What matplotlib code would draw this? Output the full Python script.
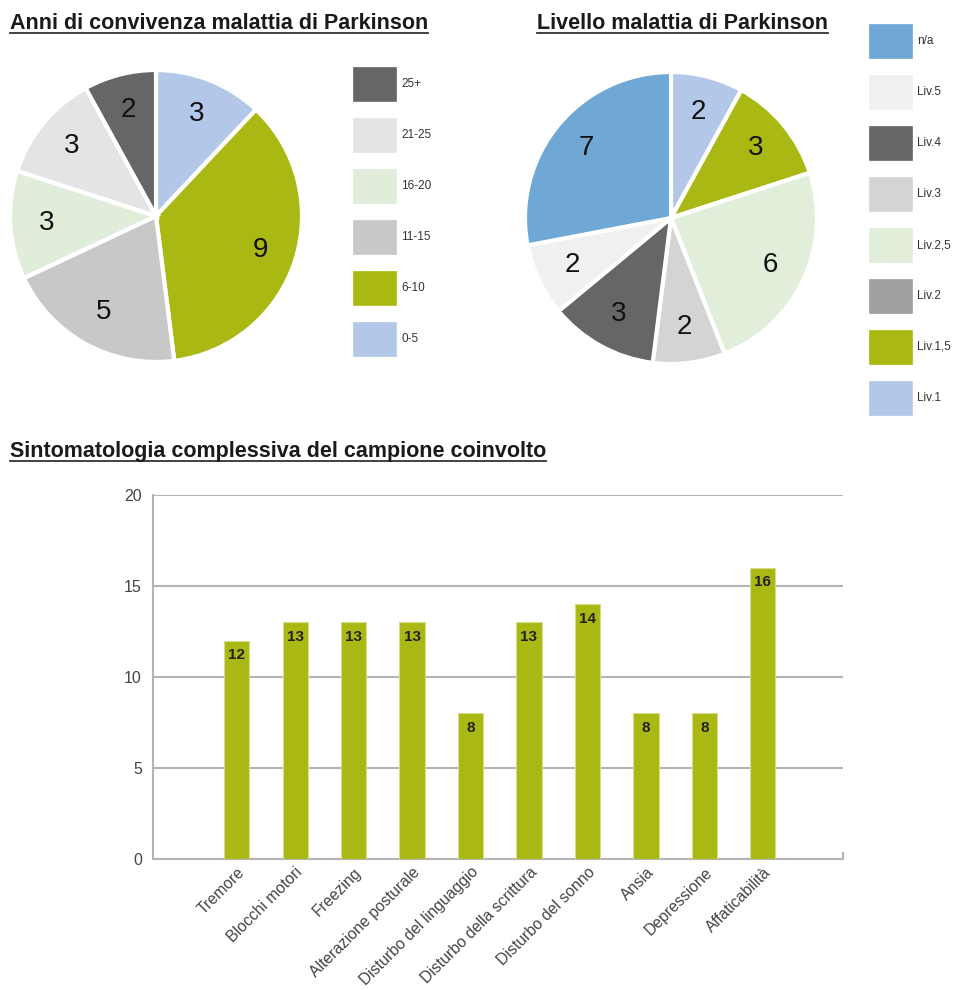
import matplotlib
matplotlib.use('Agg')
import matplotlib.pyplot as plt
from matplotlib.patches import Rectangle
from matplotlib.lines import Line2D
import numpy as np

plt.rcParams['font.family'] = ['Liberation Sans', 'DejaVu Sans']

# years living with the disease
anni_labels = ['0-5', '6-10', '11-15', '16-20', '21-25', '25+']
anni_values = [3, 9, 5, 3, 3, 2]
anni_colors = ['#b3c8e8', '#aab814', '#c8c8c8', '#e1eddb', '#e4e4e4', '#666666']

# disease level
livello_labels = ['Liv.1', 'Liv.1,5', 'Liv.2', 'Liv.2,5', 'Liv.3', 'Liv.4', 'Liv.5', 'n/a']
livello_values = [2, 3, 0, 6, 2, 3, 2, 7]
livello_colors = ['#b3c8e8', '#aab814', '#a0a0a0', '#e1eeda', '#d4d4d4', '#666666', '#f0f0f0', '#6fa7d5']

# symptoms
sintomi = ['Tremore', 'Blocchi motori', 'Freezing', 'Alterazione posturale',
           'Disturbo del linguaggio', 'Disturbo della scrittura', 'Disturbo del sonno',
           'Ansia', 'Depressione', 'Affaticabilità']
sintomi_values = [12, 13, 13, 13, 8, 13, 14, 8, 8, 16]

W, H = 957, 990
fig = plt.figure(figsize=(W / 100, H / 100), dpi=100)
fig.patch.set_facecolor('white')


def px_axes(cx, cy, w, h):
    # axes placed from pixel centre and size
    return fig.add_axes([(cx - w / 2) / W, 1 - (cy + h / 2) / H, w / W, h / H])


def title(x, y, s):
    t = fig.text(x / W, 1 - y / H, s, fontsize=15.5, fontweight='bold', ha='left',
                 va='baseline', color='#1a1a1a')
    bb = t.get_window_extent(fig.canvas.get_renderer())
    yl = 1 - (y + 4) / H
    fig.add_artist(Line2D([bb.x0 / W, bb.x1 / W], [yl, yl], transform=fig.transFigure,
                          color='#333333', lw=1.3))


def pie(ax, values, colors):
    wedges, _ = ax.pie(values, colors=colors, startangle=90, counterclock=False,
                       wedgeprops=dict(edgecolor='white', linewidth=3))
    for w, v in zip(wedges, values):
        if v == 0:
            continue
        a = np.deg2rad((w.theta1 + w.theta2) / 2)
        ax.text(0.75 * np.cos(a), 0.75 * np.sin(a), str(v), ha='center', va='center',
                fontsize=20, color='#111111')
    ax.set_xlim(-1, 1)
    ax.set_ylim(-1, 1)
    ax.set_aspect('equal')
    ax.axis('off')


def legend(x, y0, labels, colors):
    # boxes listed top to bottom in reverse data order
    for i, (lab, col) in enumerate(zip(labels[::-1], colors[::-1])):
        top = y0 + i * 51
        fig.add_artist(Rectangle((x / W, 1 - (top + 34) / H), 43 / W, 34 / H,
                                 transform=fig.transFigure, facecolor=col,
                                 edgecolor=col, lw=0.5))
        fig.text((x + 48) / W, 1 - (top + 17) / H, lab, fontsize=8.5, ha='left', va='center',
                 color='#333333')


# pies
ax1 = px_axes(156, 216, 292, 292)
pie(ax1, anni_values, anni_colors)
legend(353, 67, anni_labels, anni_colors)

ax2 = px_axes(671, 218, 292, 292)
pie(ax2, livello_values, livello_colors)
legend(869, 24, livello_labels, livello_colors)

title(10, 29, 'Anni di convivenza malattia di Parkinson')
title(537, 29, 'Livello malattia di Parkinson')
title(10, 457, 'Sintomatologia complessiva del campione coinvolto')

# bar chart
ax3 = fig.add_axes([153 / W, 1 - 859 / H, (843 - 153) / W, (859 - 495) / H])
x = np.arange(len(sintomi))
bars = ax3.bar(x, sintomi_values, width=0.43, color='#aab814', edgecolor='#d6dd8a',
               linewidth=0.8, zorder=3)
for b, v in zip(bars, sintomi_values):
    ax3.text(b.get_x() + b.get_width() / 2, v - 0.8, str(v), ha='center', va='center',
             fontsize=11, fontweight='bold', color='#222222', zorder=4)

ax3.set_xlim(-1.43, 10.37)
ax3.set_ylim(0, 20)
ax3.set_yticks([0, 5, 10, 15, 20])
ax3.yaxis.grid(True, color='#b4b4b4', lw=1.5, zorder=0)
ax3.set_xticks(x)
ax3.set_xticklabels(sintomi, rotation=45, ha='right', va='top', rotation_mode='anchor',
                    fontsize=11.3, color='#333333')
ax3.tick_params(length=0, colors='#444444')
ax3.tick_params(axis='y', pad=8, labelsize=11.5)
ax3.tick_params(axis='x', pad=4)
for s in ['top']:
    ax3.spines[s].set_visible(False)
for s in ['left', 'bottom', 'right']:
    ax3.spines[s].set_color('#b4b4b4')
    ax3.spines[s].set_linewidth(1.5)
ax3.spines['right'].set_bounds(0, 0.35)

fig.savefig('out.png', dpi=100, facecolor='white')
